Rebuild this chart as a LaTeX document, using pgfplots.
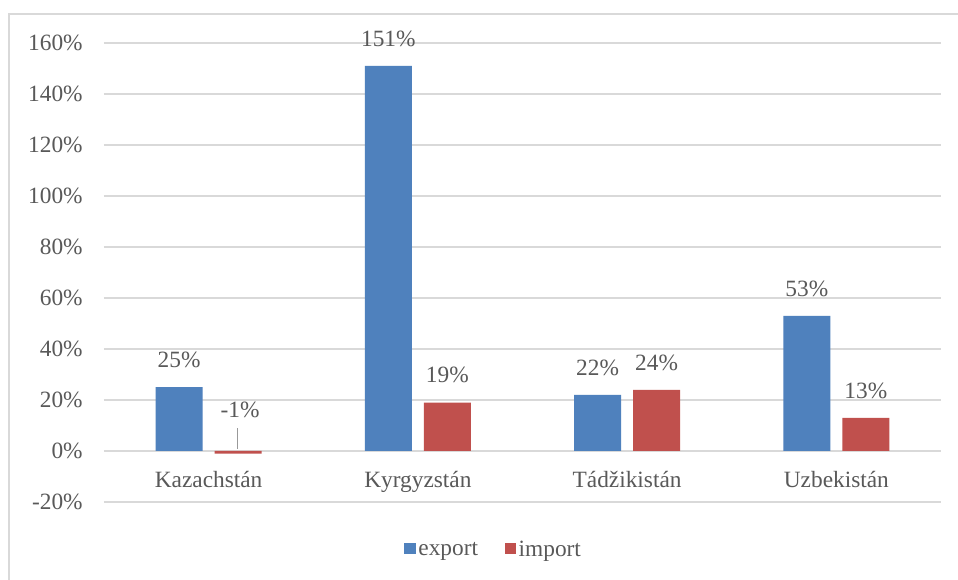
\documentclass[border=0pt]{standalone}
\usepackage{pgfplots}
\pgfplotsset{compat=1.18}
\usepackage{fontspec}
\setmainfont{Liberation Serif}
\definecolor{txt}{HTML}{595959}
\definecolor{grd}{HTML}{D9D9D9}
\definecolor{cexp}{HTML}{4F81BD}
\definecolor{cimp}{HTML}{C0504D}
\begin{document}
\begin{tikzpicture}
\useasboundingbox (0,0) rectangle (718.5pt,435pt);
\fill[white] (0,0) rectangle (718.5pt,435pt);
\draw[grd, line width=1.2pt] (6.75pt,-2pt) -- (6.75pt,424.5pt) -- (720pt,424.5pt);
\begin{axis}[
  at={(78pt,58.5pt)}, anchor=south west,
  scale only axis, width=627.75pt, height=344.25pt,
  xmin=-0.5, xmax=3.5, ymin=-20, ymax=160,
  axis x line=middle, axis y line=left,
  axis line style={draw=none},
  major tick length=0pt,
  ytick={-20,0,...,160},
  ymajorgrids, grid style={grd, line width=0.9pt},
  xtick={0,1,2,3},
  xticklabels={Kazachstán,Kyrgyzstán,Tádžikistán,Uzbekistán},
  yticklabel={\pgfmathparse{int(\tick)}\pgfmathresult\%},
  ticklabel style={font=\fontsize{17.5}{20}\selectfont, text=txt},
  yticklabel style={xshift=-12.5pt},
  xticklabel style={yshift=-12pt},
  ybar=9pt, bar width=35.25pt,
  point meta=explicit symbolic,
  nodes near coords,
  nodes near coords style={font=\fontsize{17.5}{20}\selectfont, text=txt, anchor=south, yshift=11pt},
  clip=false,
  legend style={at={(0.466,-0.104)}, anchor=center, draw=none, fill=none,
    legend columns=2, font=\fontsize{17.5}{20}\selectfont, text=txt,
    /tikz/every even column/.append style={column sep=18pt}},
  legend image code/.code={\fill[#1] (0pt,-3.5pt) rectangle (8.5pt,5pt);},
]
\addplot[fill=cexp, draw=none] coordinates {(0,25) [25\%] (1,151) [151\%] (2,22) [22\%] (3,53) [53\%]};
\addplot[fill=cimp, draw=none] coordinates {(0,-1) [] (1,19) [19\%] (2,24) [24\%] (3,13) [13\%]};
\legend{export,import}
\draw[gray!80, line width=0.8pt] (axis cs:0.14,0.8) -- (axis cs:0.14,9);
\node[font=\fontsize{17.5}{20}\selectfont, text=txt] at (axis cs:0.15,16.3) {-1\%};
\end{axis}
\end{tikzpicture}
\end{document}
